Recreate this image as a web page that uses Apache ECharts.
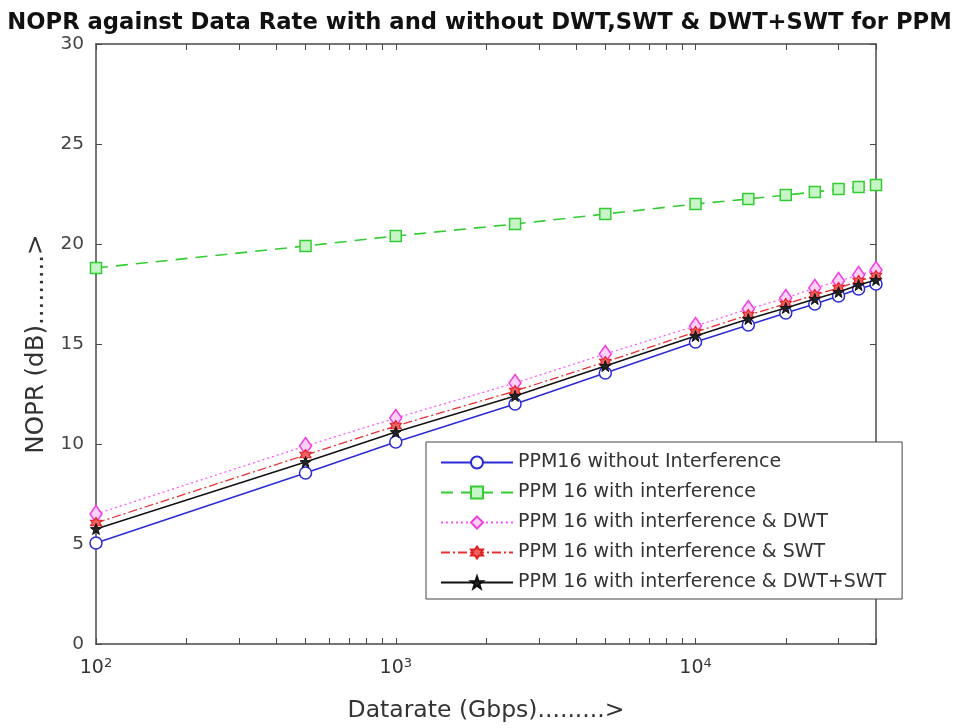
<!DOCTYPE html>
<html>
<head>
<meta charset="utf-8">
<script src="https://cdn.jsdelivr.net/npm/echarts@6/dist/echarts.min.js"></script>
<style>
html, body { margin: 0; padding: 0; background: #fff; }
#main { width: 959px; height: 728px; }
</style>
</head>
<body>
<div id="main"></div>
<script>
var myChart = echarts.init(document.getElementById('main'));

// data rates (Gbps)
var datarate = [100, 500, 1000, 2500, 5000, 10000, 15000, 20000, 25000, 30000, 35000, 40000];
// NOPR (dB) per curve
var noInterf = [5.05, 8.55, 10.1, 12.0, 13.55, 15.1, 15.95, 16.55, 17.0, 17.4, 17.75, 18.0];
var withInterf = [18.8, 19.9, 20.4, 21.0, 21.5, 22.0, 22.25, 22.45, 22.6, 22.75, 22.85, 22.95];
var withDWT = [6.5, 9.9, 11.3, 13.05, 14.5, 15.9, 16.75, 17.3, 17.8, 18.15, 18.45, 18.7];
var withSWT = [6.05, 9.45, 10.9, 12.65, 14.1, 15.6, 16.45, 17.0, 17.45, 17.8, 18.15, 18.4];
var withBoth = [5.75, 9.1, 10.6, 12.4, 13.9, 15.4, 16.25, 16.8, 17.25, 17.6, 17.95, 18.2];

var names = [
    'PPM16 without Interference',
    'PPM 16 with interference',
    'PPM 16 with interference & DWT',
    'PPM 16 with interference & SWT',
    'PPM 16 with interference & DWT+SWT'
];

var majorTicks = [100, 1000, 10000];
var minorTicks = [200, 300, 400, 500, 600, 700, 800, 900,
    2000, 3000, 4000, 5000, 6000, 7000, 8000, 9000, 20000, 30000, 40000];
var allTicks = majorTicks.concat(minorTicks);

function pairs(ys) {
    return datarate.map(function (x, i) { return [x, ys[i]]; });
}

var hexagram = 'path://M0,-10L2.9,-5L8.66,-5L5.77,0L8.66,5L2.9,5L0,10L-2.9,5L-8.66,5L-5.77,0L-8.66,-5L-2.9,-5Z';
var pentagram = 'path://M0,-10L2.35,-3.24L9.51,-3.09L3.8,1.24L5.88,8.09L0,4L-5.88,8.09L-3.8,1.24L-9.51,-3.09L-2.35,-3.24Z';

var axisColor = '#4a4a4a';
var fontFam = '"DejaVu Sans", sans-serif';

option = {
    backgroundColor: '#fff',
    animation: false,
    title: {
        text: 'NOPR against Data Rate with and without DWT,SWT & DWT+SWT for PPM',
        left: 'center',
        top: 7,
        textStyle: { fontFamily: fontFam, fontSize: 22.7, fontWeight: 'bold', color: '#111' }
    },
    grid: { left: 96, right: 83, top: 44, bottom: 83, containLabel: false },
    legend: {
        orient: 'vertical',
        left: 426,
        top: 442,
        padding: [11, 16, 7, 14],
        itemWidth: 72,
        itemHeight: 15,
        itemGap: 11,
        backgroundColor: '#fff',
        borderColor: '#444',
        borderWidth: 1,
        textStyle: { fontFamily: fontFam, fontSize: 19, color: '#333' },
        data: names
    },
    xAxis: [
        {
            type: 'log',
            logBase: 10,
            min: 100,
            max: 40000,
            position: 'bottom',
            name: 'Datarate (Gbps).........>',
            nameLocation: 'middle',
            nameGap: 55,
            nameTextStyle: { fontFamily: fontFam, fontSize: 23.5, color: '#333' },
            axisLine: { show: true, onZero: false, lineStyle: { color: axisColor, width: 1.5 } },
            axisTick: { show: true, inside: true, length: 6, customValues: allTicks, lineStyle: { color: axisColor } },
            axisLabel: {
                customValues: majorTicks,
                margin: 13,
                fontFamily: fontFam,
                color: '#333',
                formatter: function (v) {
                    return '{b|10}{s|' + Math.round(Math.log10(v)) + '}';
                },
                rich: {
                    b: { fontSize: 19, fontFamily: fontFam, color: '#333' },
                    s: { fontSize: 13, fontFamily: fontFam, color: '#333', padding: [0, 0, 10, 0] }
                }
            },
            splitLine: { show: false }
        },
        {
            type: 'log',
            logBase: 10,
            min: 100,
            max: 40000,
            position: 'top',
            axisLine: { show: true, onZero: false, lineStyle: { color: axisColor, width: 1.5 } },
            axisTick: { show: true, inside: true, length: 6, customValues: allTicks, lineStyle: { color: axisColor } },
            axisLabel: { show: false },
            splitLine: { show: false }
        }
    ],
    yAxis: [
        {
            type: 'value',
            min: 0,
            max: 30,
            interval: 5,
            position: 'left',
            name: 'NOPR (dB).........>',
            nameLocation: 'middle',
            nameGap: 47,
            nameTextStyle: { fontFamily: fontFam, fontSize: 24.5, color: '#333' },
            axisLine: { show: true, onZero: false, lineStyle: { color: axisColor, width: 1.5 } },
            axisTick: { show: true, inside: true, length: 6, lineStyle: { color: axisColor } },
            axisLabel: { fontFamily: fontFam, fontSize: 18.5, color: '#444', margin: 12 },
            splitLine: { show: false }
        },
        {
            type: 'value',
            min: 0,
            max: 30,
            interval: 5,
            position: 'right',
            axisLine: { show: true, onZero: false, lineStyle: { color: axisColor, width: 1.5 } },
            axisTick: { show: true, inside: true, length: 6, lineStyle: { color: axisColor } },
            axisLabel: { show: false },
            splitLine: { show: false }
        }
    ],
    series: [
        {
            name: names[0],
            type: 'line',
            data: pairs(noInterf),
            symbol: 'circle',
            symbolSize: 12,
            lineStyle: { color: '#2a2ad8', width: 1.4, type: 'solid' },
            itemStyle: { color: '#fff', borderColor: '#2a2ad8', borderWidth: 1.5 },
            z: 3
        },
        {
            name: names[1],
            type: 'line',
            data: pairs(withInterf),
            symbol: 'rect',
            symbolSize: 11,
            lineStyle: { color: '#33cc33', width: 1.6, type: [12, 8] },
            itemStyle: { color: '#c8f5c8', borderColor: '#33cc33', borderWidth: 1.5 },
            z: 2
        },
        {
            name: names[2],
            type: 'line',
            data: pairs(withDWT),
            symbol: 'diamond',
            symbolSize: [12, 17],
            lineStyle: { color: '#ff55ff', width: 1.3, type: [2, 3] },
            itemStyle: { color: '#ffd0f8', borderColor: '#f040e0', borderWidth: 1.5 },
            z: 4
        },
        {
            name: names[3],
            type: 'line',
            data: pairs(withSWT),
            symbol: hexagram,
            symbolSize: 11,
            lineStyle: { color: '#e83030', width: 1.3, type: [9, 3, 2, 3] },
            itemStyle: { color: '#f06060', borderColor: '#e02020', borderWidth: 1.2 },
            z: 5
        },
        {
            name: names[4],
            type: 'line',
            data: pairs(withBoth),
            symbol: pentagram,
            symbolSize: 11,
            lineStyle: { color: '#111', width: 1.4, type: 'solid' },
            itemStyle: { color: '#222', borderColor: '#111', borderWidth: 1 },
            z: 6
        }
    ]
};
myChart.setOption(option);
</script>
</body>
</html>
